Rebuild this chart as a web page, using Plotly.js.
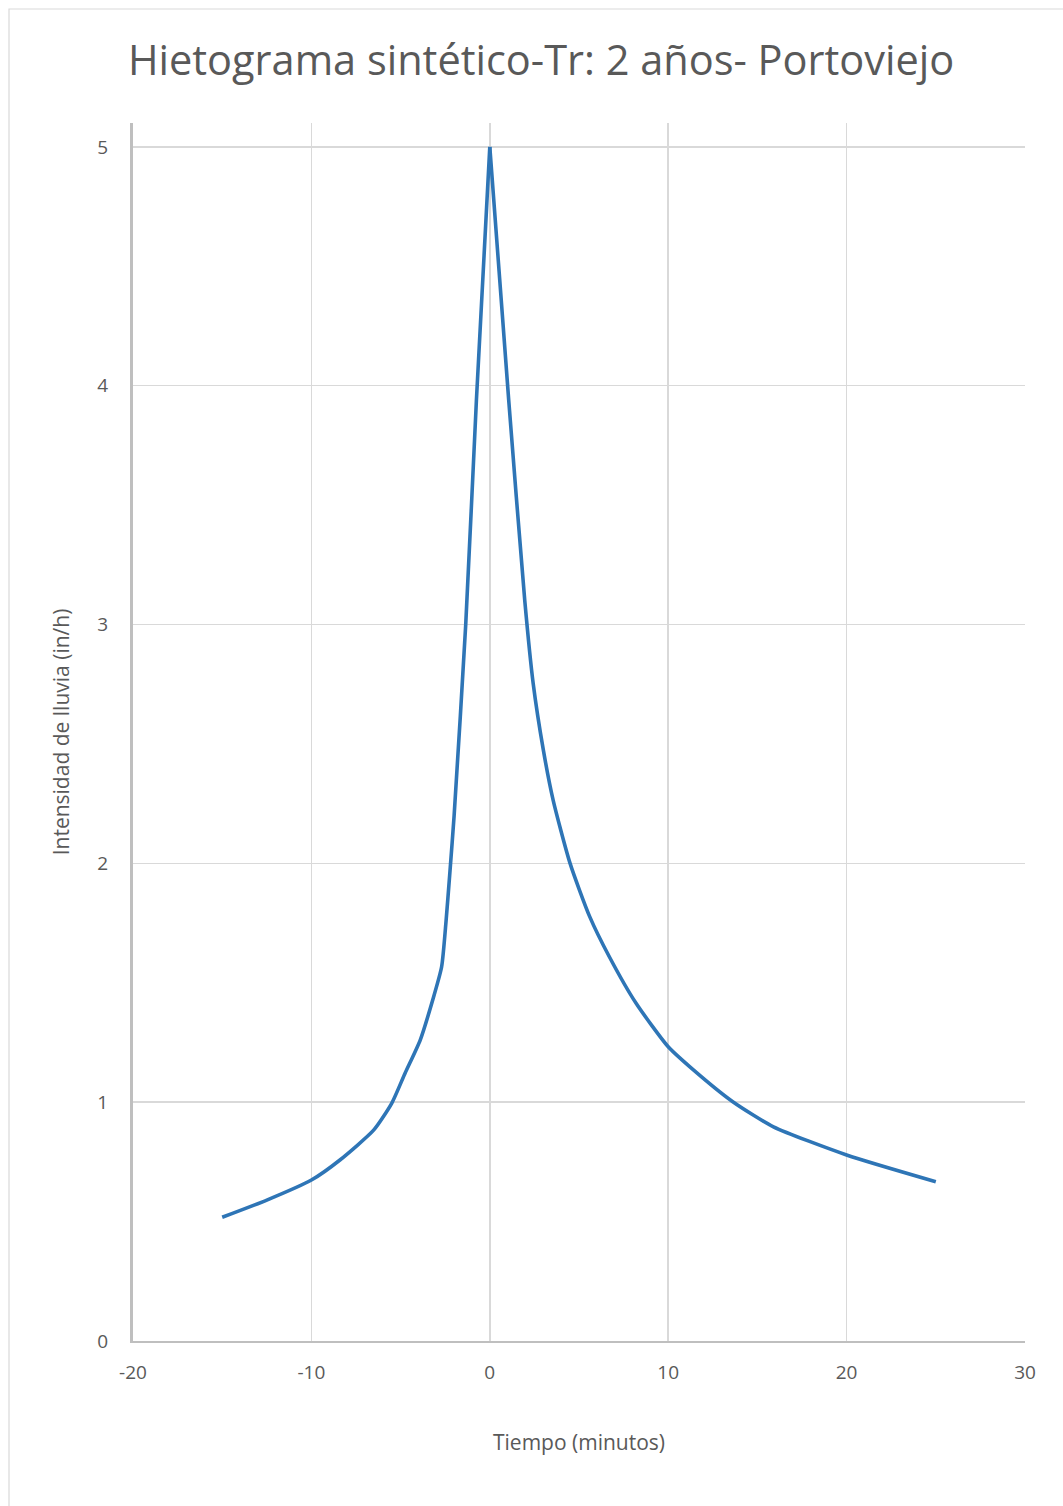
<!DOCTYPE html>
<html>
<head>
<meta charset="utf-8">
<script src="https://cdn.plot.ly/plotly-3.0.1.min.js"></script>
<style>html,body{margin:0;padding:0;background:#fff;}#chart{width:1063px;height:1506px;}</style>
</head>
<body>
<div id="chart"></div>
<script>
// Time (minutes) and rainfall intensity (in/h)
const tiempo = [-15, -12.5, -10, -8.4, -6.5, -5.5, -4.75, -3.9, -3.2, -2.7, -2.45, -2.25, -2.0, -1.35, -0.75, 0,
                1.06, 1.96, 2.43, 3.0, 3.55, 4.5, 5.6, 6.7, 8.2, 10, 11.2, 13.6, 15.9, 20, 25];
const intensidad = [0.518, 0.59, 0.674, 0.758, 0.884, 0.995, 1.121, 1.26, 1.428, 1.567, 1.76, 1.95, 2.2, 3.0, 3.94, 5.0,
                    3.94, 3.10, 2.754, 2.475, 2.265, 2.0, 1.777, 1.609, 1.414, 1.232, 1.149, 1.003, 0.897, 0.779, 0.667];
const xTicks = [-20, -10, 0, 10, 20, 30];
const yTicks = [0, 1, 2, 3, 4, 5];

const FONT = 'Open Sans, Noto Sans, sans-serif';
// split at the peak so the smoothed line keeps a sharp apex
const iPeak = intensidad.indexOf(Math.max(...intensidad));
const lineStyle = {color: '#2e75b6', width: 3.6, shape: 'spline', smoothing: 0.6};
const traces = [
  {x: tiempo.slice(0, iPeak + 1), y: intensidad.slice(0, iPeak + 1), type: 'scatter', mode: 'lines', line: lineStyle},
  {x: tiempo.slice(iPeak), y: intensidad.slice(iPeak), type: 'scatter', mode: 'lines', line: lineStyle}
];
const layout = {
  width: 1063, height: 1506,
  margin: {l: 133, r: 38, t: 123, b: 165, pad: 0},
  paper_bgcolor: '#ffffff', plot_bgcolor: '#ffffff',
  showlegend: false,
  font: {family: FONT, color: '#595959'},
  title: {text: 'Hietograma sintético-Tr: 2 años- Portoviejo', font: {family: FONT, size: 41.5, color: '#595959'},
          x: 0.509, xanchor: 'center', y: 0.96, yanchor: 'middle', yref: 'container'},
  xaxis: {
    range: [-20, 30], tickvals: xTicks, ticktext: xTicks.map(String),
    showgrid: true, gridcolor: '#d9d9d9', gridwidth: 1.5,
    zeroline: false, showline: true, linecolor: '#bfbfbf', linewidth: 2,
    ticks: 'outside', ticklen: 13, tickcolor: 'rgba(0,0,0,0)',
    tickfont: {family: FONT, size: 19, color: '#595959'},
    title: {text: 'Tiempo (minutos)', font: {family: FONT, size: 21, color: '#595959'}, standoff: 52},
    automargin: false, fixedrange: true
  },
  yaxis: {
    range: [0, 5.1], tickvals: yTicks, ticktext: yTicks.map(String),
    showgrid: true, gridcolor: '#d9d9d9', gridwidth: 1.5,
    zeroline: false, showline: true, linecolor: '#bfbfbf', linewidth: 3,
    ticks: 'outside', ticklen: 18, tickcolor: 'rgba(0,0,0,0)',
    tickfont: {family: FONT, size: 19, color: '#595959'},
    title: {text: 'Intensidad de lluvia (in/h)', font: {family: FONT, size: 21, color: '#595959'}, standoff: 22},
    automargin: false, fixedrange: true
  },
  shapes: [{
    type: 'rect', xref: 'paper', yref: 'paper',
    x0: (9 - 133) / 892, x1: 1.2, y0: -0.3, y1: (1341 - 9) / 1218,
    line: {color: '#d9d9d9', width: 1.2}, fillcolor: 'rgba(0,0,0,0)', layer: 'below'
  }]
};
Plotly.newPlot('chart', traces, layout, {displayModeBar: false, staticPlot: true});
</script>
</body>
</html>
